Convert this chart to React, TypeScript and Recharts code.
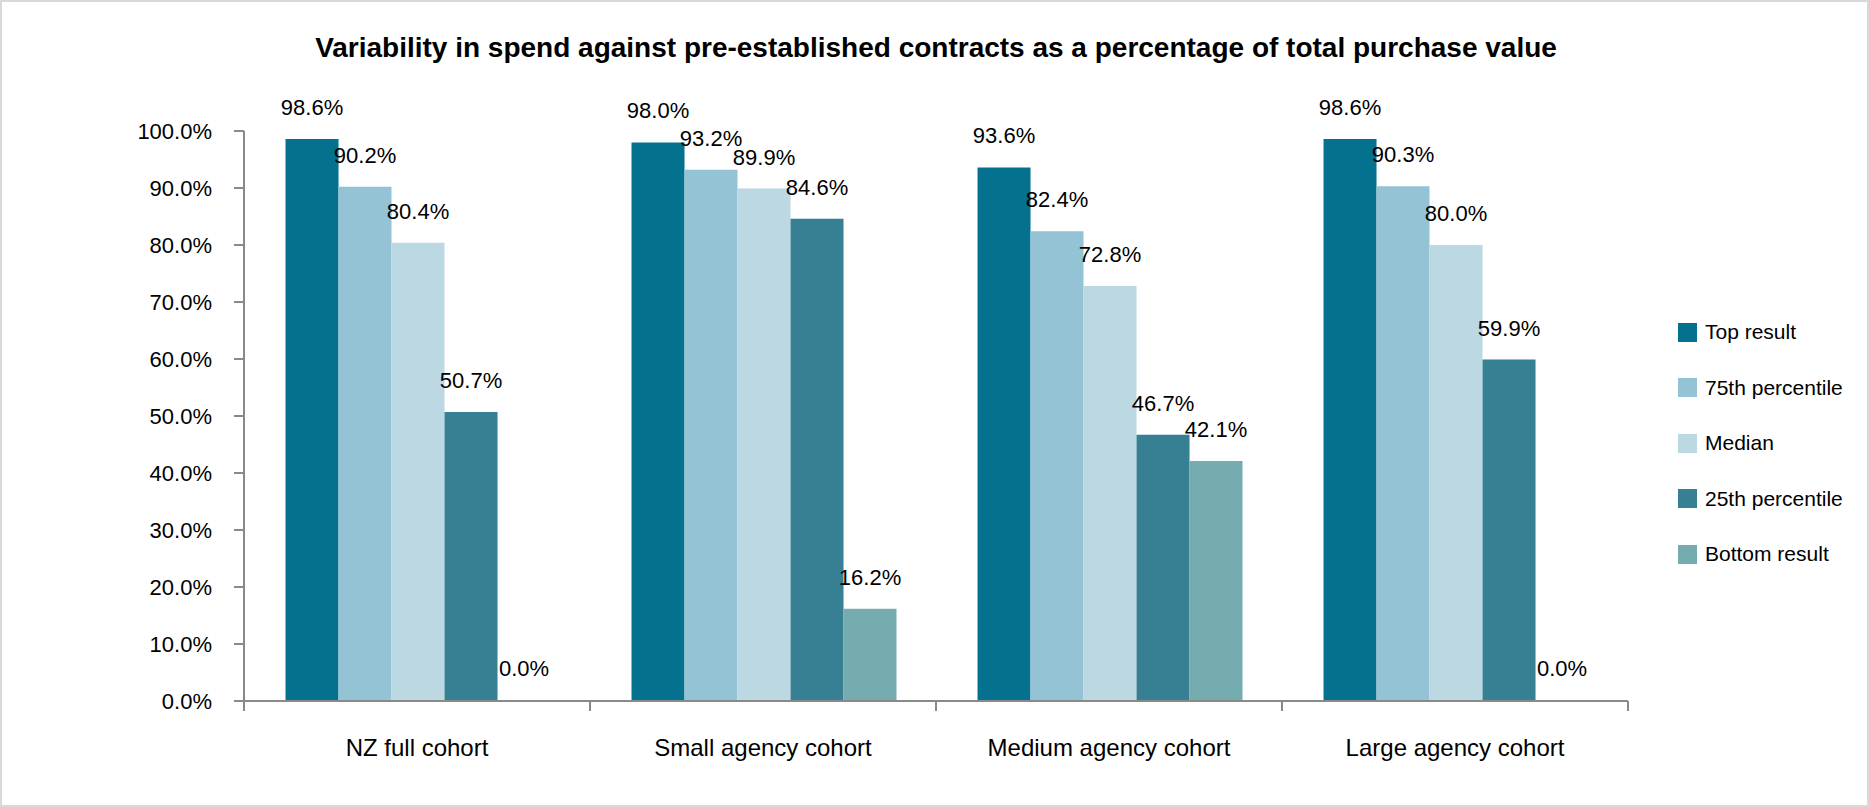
import React from 'react';
import { BarChart, Bar, XAxis, YAxis, LabelList } from 'recharts';

const categories = ['NZ full cohort', 'Small agency cohort', 'Medium agency cohort', 'Large agency cohort'];
const topResult = [98.6, 98.0, 93.6, 98.6];
const pct75 = [90.2, 93.2, 82.4, 90.3];
const median = [80.4, 89.9, 72.8, 80.0];
const pct25 = [50.7, 84.6, 46.7, 59.9];
const bottomResult = [0.0, 16.2, 42.1, 0.0];
const yTicks = [0, 10, 20, 30, 40, 50, 60, 70, 80, 90, 100];

const seriesNames = ['Top result', '75th percentile', 'Median', '25th percentile', 'Bottom result'];
const seriesKeys = ['top', 'p75', 'median', 'p25', 'bottom'];
const seriesColors = ['#04718E', '#93C3D5', '#BCD8E3', '#377F93', '#75ACB0'];
const seriesValues = [topResult, pct75, median, pct25, bottomResult];

const data = categories.map((name, i) => {
  const row: Record<string, any> = { name };
  seriesKeys.forEach((k, s) => { row[k] = seriesValues[s][i]; });
  return row;
});

const W = 1869;
const H = 807;
const MARGIN = { top: 131, right: 241, bottom: 46, left: 0 };
const Y_AXIS_W = 244;
const X_AXIS_H = 60;
const PLOT_W = W - MARGIN.left - MARGIN.right - Y_AXIS_W;
const BAND = PLOT_W / categories.length;
const AXIS_COLOR = '#898989';
const FONT = '"Liberation Sans", Arial, sans-serif';

const XTick = (props: any) => {
  const { x, y, payload, index } = props;
  const half = BAND / 2;
  return (
    <g>
      <line x1={x - half} y1={y} x2={x - half} y2={y + 10} stroke={AXIS_COLOR} strokeWidth={2} />
      {index === categories.length - 1 && (
        <line x1={x + half} y1={y} x2={x + half} y2={y + 10} stroke={AXIS_COLOR} strokeWidth={2} />
      )}
      <text x={x} y={y + 46} textAnchor="middle" dominantBaseline="central" fontSize={24} fill="#000" fontFamily={FONT}>
        {payload.value}
      </text>
    </g>
  );
};

export default function App() {
  return (
    <div style={{ position: 'absolute', left: 0, top: 0, width: W, height: H, background: '#fff', fontFamily: FONT }}>
      <div style={{ position: 'absolute', left: 0, top: 0, width: W, height: H, boxSizing: 'border-box', border: '2px solid #d9d9d9', pointerEvents: 'none', zIndex: 2 }} />
      <div style={{ position: 'absolute', left: 0, top: 30, width: 1872, textAlign: 'center', fontSize: 28, fontWeight: 'bold', color: '#000', lineHeight: '36px' }}>
        Variability in spend against pre-established contracts as a percentage of total purchase value
      </div>
      <div style={{ position: 'absolute', left: 0, top: 0 }}>
        <BarChart width={W} height={H} data={data} margin={MARGIN} barCategoryGap="12%" barGap={0}>
          <YAxis
            width={Y_AXIS_W}
            domain={[0, 100]}
            ticks={yTicks}
            interval={0}
            tickFormatter={(v: number) => v.toFixed(1) + '%'}
            axisLine={{ stroke: AXIS_COLOR, strokeWidth: 2 }}
            tickLine={{ stroke: AXIS_COLOR, strokeWidth: 2 }}
            tickSize={10}
            tickMargin={22}
            tick={{ fontSize: 22, fill: '#000', fontFamily: FONT }}
          />
          <XAxis
            dataKey="name"
            height={X_AXIS_H}
            axisLine={{ stroke: AXIS_COLOR, strokeWidth: 2 }}
            tickLine={false}
            tickSize={0}
            tickMargin={0}
            interval={0}
            tick={<XTick />}
          />
          {seriesKeys.map((k, s) => (
            <Bar
              key={k}
              dataKey={k}
              name={seriesNames[s]}
              fill={seriesColors[s]}
              isAnimationActive={false}
              minPointSize={(v: any) => (Number(v) === 0 ? 1 : 0)}
            >
              <LabelList
                dataKey={k}
                position="top"
                offset={24}
                formatter={(v: any) => Number(v).toFixed(1) + '%'}
                style={{ fontSize: 22, fill: '#000', fontFamily: FONT }}
              />
            </Bar>
          ))}
        </BarChart>
      </div>
      <div style={{ position: 'absolute', left: 1678, top: 0 }}>
        {seriesNames.map((n, s) => (
          <div key={n} style={{ position: 'absolute', left: 0, top: 322 + s * 55.5, height: 20, display: 'flex', alignItems: 'center', whiteSpace: 'nowrap' }}>
            <div style={{ width: 19, height: 19, background: seriesColors[s] }} />
            <span style={{ marginLeft: 8, fontSize: 21, color: '#000' }}>{n}</span>
          </div>
        ))}
      </div>
    </div>
  );
}
